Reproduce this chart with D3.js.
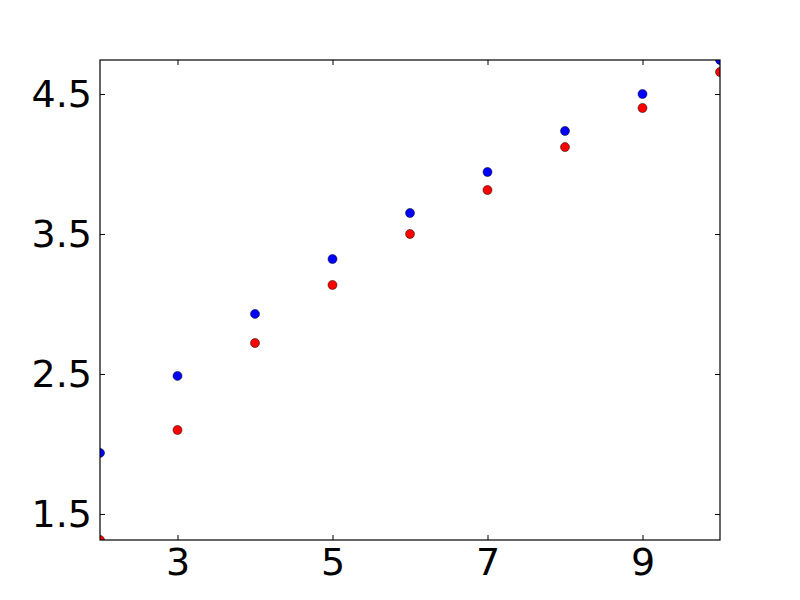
<!DOCTYPE html>
<html>
<head>
<meta charset="utf-8">
<script src="https://cdn.jsdelivr.net/npm/d3@7"></script>
<style>
  body { margin: 0; background: #fff; }
  svg text { font-family: "DejaVu Sans", sans-serif; }
</style>
</head>
<body>
<div id="chart"></div>
<script>
// values
var xValues = [2, 3, 4, 5, 6, 7, 8, 9, 10];
var blueValues = [1.936, 2.486, 2.929, 3.321, 3.65, 3.943, 4.236, 4.5, 4.743];
var redValues = [1.314, 2.1, 2.721, 3.136, 3.5, 3.814, 4.121, 4.4, 4.657];
var xTicks = [3, 5, 7, 9];
var yTicks = [1.5, 2.5, 3.5, 4.5];

var margin = {top: 60, right: 80, bottom: 60, left: 100},
    width = 800 - margin.left - margin.right,
    height = 600 - margin.top - margin.bottom;

var svg = d3.select("#chart").append("svg")
    .attr("width", 800)
    .attr("height", 600)
    .append("g")
    .attr("transform", "translate(" + margin.left + "," + margin.top + ")");

var x = d3.scaleLinear().domain([2, 10]).range([0, width]);
var y = d3.scaleLinear().domain([1.314, 4.743]).range([height, 0]);

//clip so the edge points are cut like in the original
svg.append("clipPath").attr("id", "clip")
    .append("rect").attr("width", width).attr("height", height);

var plot = svg.append("g").attr("clip-path", "url(#clip)");

function drawSeries(vals, color) {
    plot.selectAll(".pt-" + color)
        .data(vals)
        .enter().append("circle")
        .attr("class", "pt-" + color)
        .attr("cx", function (d, i) { return x(xValues[i]); })
        .attr("cy", function (d) { return y(d); })
        .attr("r", 4.5)
        .attr("fill", color)
        .attr("stroke", "#000")
        .attr("stroke-width", 0.5);
}
drawSeries(blueValues, "blue");
drawSeries(redValues, "red");

//axes: ticks point inward, labels only on bottom/left
var axBottom = svg.append("g").attr("transform", "translate(0," + height + ")")
    .call(d3.axisBottom(x).tickValues(xTicks).tickSize(-5).tickPadding(8).tickFormat(d3.format("d")));
var axTop = svg.append("g")
    .call(d3.axisTop(x).tickValues(xTicks).tickSize(-5).tickFormat(""));
var axLeft = svg.append("g")
    .call(d3.axisLeft(y).tickValues(yTicks).tickSize(-5).tickPadding(8).tickFormat(d3.format(".1f")));
var axRight = svg.append("g").attr("transform", "translate(" + width + ",0)")
    .call(d3.axisRight(y).tickValues(yTicks).tickSize(-5).tickFormat(""));

[axBottom, axTop, axLeft, axRight].forEach(function (a) {
    a.select(".domain").remove();
    a.selectAll(".tick line").attr("stroke", "#000").attr("stroke-width", 1);
    a.selectAll("text").attr("font-size", 38).attr("fill", "#000");
});

svg.append("rect")
    .attr("width", width).attr("height", height)
    .attr("fill", "none").attr("stroke", "#000").attr("stroke-width", 1.2);
</script>
</body>
</html>
